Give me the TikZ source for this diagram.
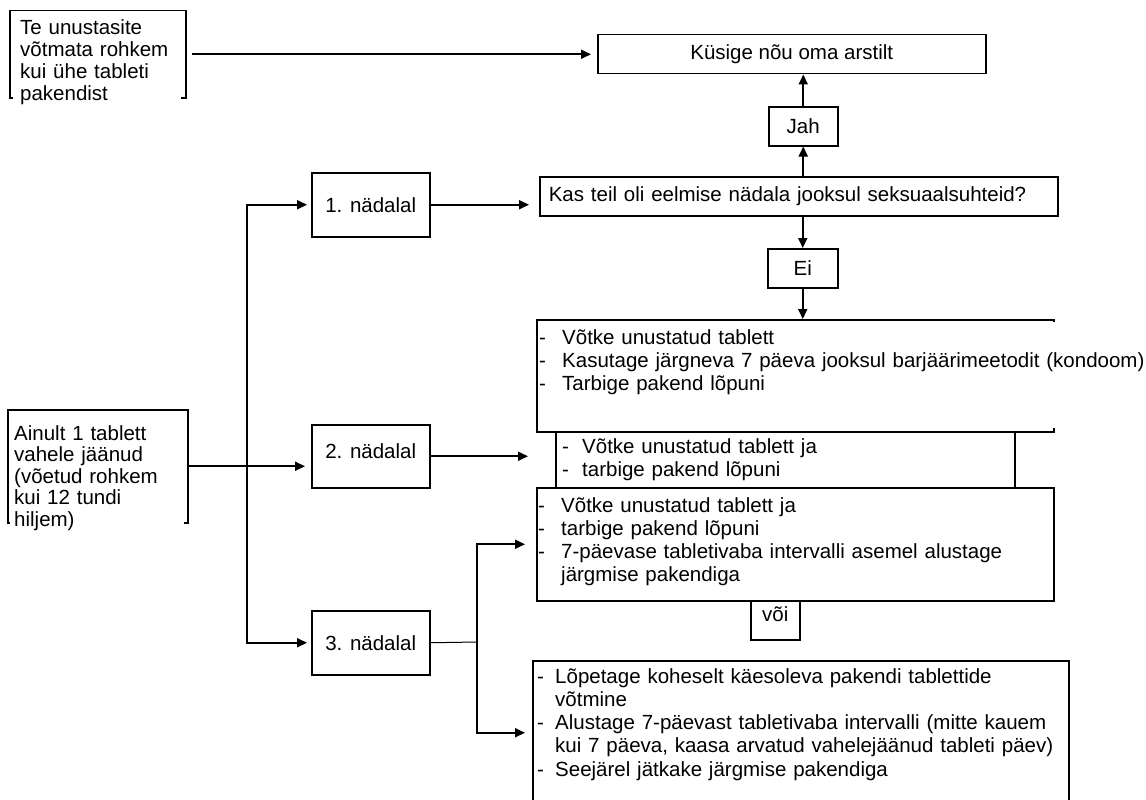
\documentclass[tikz,border=0pt]{standalone}
\usepackage{fontspec}
\setmainfont{Liberation Sans}
\usetikzlibrary{arrows.meta}

\newcommand{\listdash}[1][23pt]{\makebox[#1][l]{-}}

\begin{document}
\begin{tikzpicture}[x=1pt, y=-1pt,
    font=\fontsize{20.5}{23}\selectfont,
    box/.style={draw=black, line width=1.5pt, rectangle, inner sep=0pt, anchor=north west},
    note/.style={anchor=base west, inner sep=0pt, align=left},
    cover/.style={note, fill=white},
    arr/.style={-{Triangle[length=10pt,width=9pt]}, line width=1.8pt},
    link/.style={line width=1pt}]

    \useasboundingbox (0,0) rectangle (1146,800);

    \node[box, minimum width=176pt, minimum height=87pt] (lost) at (9,10) {};
    \node[box, minimum width=180pt, minimum height=113pt] (miss) at (7,409) {};
    \node[box, minimum width=388pt, minimum height=39pt] (ask) at (597,34) {Küsige nõu oma arstilt};
    \node[box, minimum width=69pt, minimum height=39pt] (yes) at (768,106) {Jah};
    \node[box, minimum width=518pt, minimum height=39pt, text width=500pt, inner xsep=9pt, align=left] (q) at (539,176) {Kas teil oli eelmise nädala jooksul seksuaalsuhteid?};
    \node[box, minimum width=70pt, minimum height=39pt] (no) at (767,248) {Ei};
    \node[box, minimum width=118pt, minimum height=64pt] (w1) at (311,172) {1. nädalal};
    \node[box, minimum width=118pt, minimum height=63pt, text depth=11pt] (w2) at (311,424) {2. nädalal};
    \node[box, minimum width=118pt, minimum height=64pt] (w3) at (311,610) {3. nädalal};
    \node[box, minimum width=517pt, minimum height=112pt] (c) at (536,319) {};
    \node[box, minimum width=459pt, minimum height=56pt] (d) at (555,431) {};
    \node[box, minimum width=517pt, minimum height=113pt] (e) at (536,487) {};
    \node[box, minimum width=49pt, minimum height=39pt, text depth=13pt] (or) at (750,600) {või};
    \node[box, minimum width=536pt, minimum height=144pt] (f) at (532,660) {};

    \node[cover, inner xsep=7pt, text width=154pt, text height=20pt, text depth=70pt,
        font=\fontsize{20.5}{21.7}\selectfont] (lostt) at (13,35)
        {Te unustasite\\võtmata rohkem\\kui ühe tableti\\pakendist};
    \node[cover, inner xsep=4pt, text width=166pt, text height=20pt, text depth=91pt,
        font=\fontsize{20.5}{21.5}\selectfont] (misst) at (10,440)
        {Ainult 1 tablett\\vahele jäänud\\(võetud rohkem\\kui 12 tundi\\hiljem)};
    \node[cover, inner xsep=1pt, text width=640pt, text height=22pt, text depth=84pt] (ct) at (538,344)
        {\listdash Võtke unustatud tablett\\\listdash Kasutage järgneva 7 päeva jooksul barjäärimeetodit (kondoom)\\\listdash Tarbige pakend lõpuni};
    \node[note, text width=440pt] (dt) at (562,453)
        {\listdash[20pt]Võtke unustatud tablett ja\\\listdash[20pt]tarbige pakend lõpuni};
    \node[note, text width=500pt] (et) at (538,512)
        {\listdash Võtke unustatud tablett ja\\\listdash tarbige pakend lõpuni\\\listdash 7-päevase tabletivaba intervalli asemel alustage\\\hspace*{23pt}järgmise pakendiga};
    \node[note, text width=520pt, font=\fontsize{20.5}{23.3}\selectfont] (ft) at (537,683)
        {\listdash[18pt]Lõpetage koheselt käesoleva pakendi tablettide\\\hspace*{18pt}võtmine\\\listdash[18pt]Alustage 7-päevast tabletivaba intervalli (mitte kauem\\\hspace*{18pt}kui 7 päeva, kaasa arvatud vahelejäänud tableti päev)\\\listdash[18pt]Seejärel jätkake järgmise pakendiga};

    \coordinate (split) at (247,465.5);
    \coordinate (fork) at (477,642);

    \draw[arr, shorten <=5pt, shorten >=6pt] (lost.east) -- (ask.west);
    \draw[arr] (yes.north) -- (yes.north |- ask.south);
    \draw[arr] (yes.south |- q.north) -- (yes.south);
    \draw[arr] (no.north |- q.south) -- (no.north);
    \draw[arr] (no.south) -- (no.south |- c.north);
    \draw[arr, shorten >=10pt] (w1.east) -- (w1.east -| q.west);
    \draw[arr, shorten >=6pt] (miss.east) -- (miss.east -| w2.west);
    \draw[arr, shorten >=4pt] (split) |- (w1.west);
    \draw[arr, shorten >=4pt] (split) |- (w3.west);
    \draw[arr, shorten >=27pt] (w2.east) -- (w2.east -| d.west);
    \draw[link] (w3.east) -- (fork);
    \draw[arr, shorten >=11pt] (fork) |- (e.west);
    \draw[arr, shorten >=7pt] (fork) |- (f.west);
\end{tikzpicture}
\end{document}
